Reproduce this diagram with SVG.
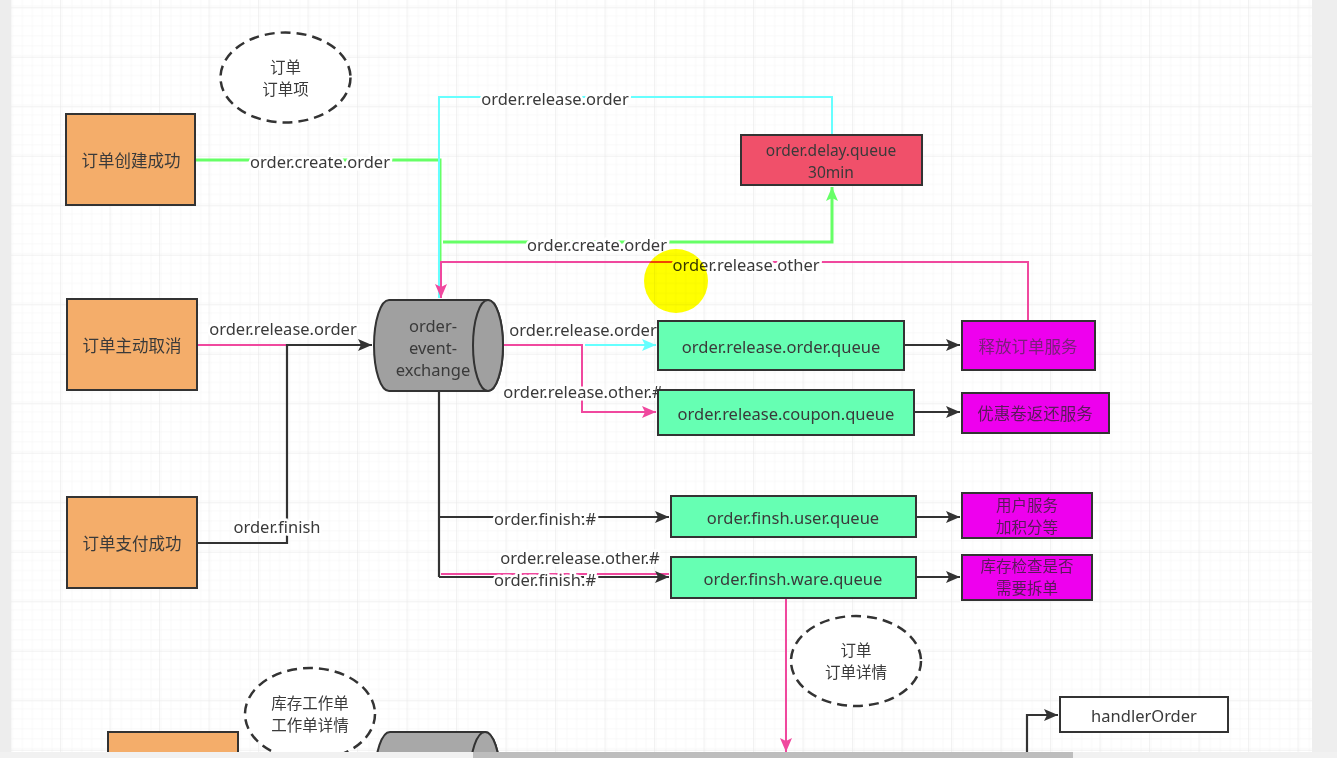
<svg xmlns="http://www.w3.org/2000/svg" width="1337" height="758" viewBox="0 0 1337 758">
  <defs>
    <pattern id="minor" width="9.9" height="9.9" patternUnits="userSpaceOnUse" x="1.5" y="8.3">
      <path d="M9.9 0V9.9H0" fill="none" stroke="#f3f3f3" stroke-width="1"/>
    </pattern>
    <pattern id="major" width="49.5" height="49.5" patternUnits="userSpaceOnUse" x="11.5" y="8.3">
      <rect width="49.5" height="49.5" fill="url(#minor)"/>
      <path d="M49.5 0V49.5H0" fill="none" stroke="#e6e6e6" stroke-width="1"/>
    </pattern>
    <marker id="ahBlack" viewBox="0 0 14 12" refX="14" refY="6" markerWidth="14" markerHeight="12" markerUnits="userSpaceOnUse" orient="auto">
      <path d="M0 0L14 6L0 12L3 6Z" fill="#333"/>
    </marker>
    <marker id="ahPink" viewBox="0 0 14 12" refX="14" refY="6" markerWidth="14" markerHeight="12" markerUnits="userSpaceOnUse" orient="auto">
      <path d="M0 0L14 6L0 12L3 6Z" fill="#f0489e"/>
    </marker>
    <marker id="ahCyan" viewBox="0 0 14 12" refX="14" refY="6" markerWidth="14" markerHeight="12" markerUnits="userSpaceOnUse" orient="auto">
      <path d="M0 0L14 6L0 12L3 6Z" fill="#66ffff"/>
    </marker>
    <marker id="ahGreen" viewBox="0 0 14 12" refX="14" refY="6" markerWidth="14" markerHeight="12" markerUnits="userSpaceOnUse" orient="auto">
      <path d="M0 0L14 6L0 12L3 6Z" fill="#66ff66"/>
    </marker>
    <style>
      text { font-family: "Noto Sans", "Noto Sans CJK SC", sans-serif; font-size: 16.5px; fill: #3a3a3a; text-anchor: middle; dominant-baseline: central; }
      .two { font-size: 15.5px; }
      .lbl { paint-order: stroke; stroke: #fff; stroke-width: 5px; }
      .box { stroke: #333; stroke-width: 2; }
      .event { fill: #f4ad6a; }
      .queue { fill: #66ffb3; }
      .svc { fill: #ee00ee; }
      .note { fill: #fff; stroke: #333; stroke-width: 2.5; stroke-dasharray: 10 6; }
      .black { fill: none; stroke: #333; stroke-width: 2.2; }
      .pink { fill: none; stroke: #f0489e; stroke-width: 2; }
      .cyan { fill: none; stroke: #66ffff; stroke-width: 2; }
      .green { fill: none; stroke: #66ff66; stroke-width: 3; }
    </style>
  </defs>

  <!-- canvas -->
  <rect width="1337" height="758" fill="#fff"/>
  <rect x="11" y="0" width="1301" height="752" fill="url(#major)"/>
  <rect x="0" y="0" width="11" height="758" fill="#ededed"/>
  <rect x="1312" y="0" width="25" height="758" fill="#eeeeee"/>

  <!-- connectors -->
  <g id="connectors">
    <!-- order created -> exchange -->
    <path class="green" d="M195 160H440V296"/>
    <!-- exchange -> delay queue -->
    <path class="green" d="M443 242H832V187" marker-end="url(#ahGreen)"/>
    <!-- delay queue dead-letter -> exchange -->
    <path class="cyan" d="M832 135V97H439V298"/>
    <!-- release other from order service -> exchange -->
    <path class="pink" d="M1028 321V262H441V298" marker-end="url(#ahPink)"/>
    <!-- cancel / paid -> exchange -->
    <path class="pink" d="M197 345H288"/>
    <path class="black" d="M197 543H287V345H372" marker-end="url(#ahBlack)"/>
    <!-- exchange -> release queues -->
    <path class="pink" d="M503 345H582V412H656" marker-end="url(#ahPink)"/>
    <path class="cyan" d="M585 345H656" marker-end="url(#ahCyan)"/>
    <!-- exchange -> finish queues -->
    <path class="black" d="M439 391V577"/>
    <path class="black" d="M439 517H669" marker-end="url(#ahBlack)"/>
    <path class="pink" d="M441 574H669"/>
    <path class="black" d="M439 577H669" marker-end="url(#ahBlack)"/>
    <!-- queues -> services -->
    <path class="black" d="M904 345H960" marker-end="url(#ahBlack)"/>
    <path class="black" d="M914 412H960" marker-end="url(#ahBlack)"/>
    <path class="black" d="M916 517H960" marker-end="url(#ahBlack)"/>
    <path class="black" d="M916 577H960" marker-end="url(#ahBlack)"/>
    <!-- ware queue -> downstream -->
    <path class="pink" d="M786 598V752" marker-end="url(#ahPink)"/>
    <path class="black" d="M1027 758V715H1058" marker-end="url(#ahBlack)"/>

    <!-- labels -->
    <text class="lbl" x="320" y="161">order.create.order</text>
    <text class="lbl" x="555" y="98">order.release.order</text>
    <text class="lbl" x="597" y="244">order.create.order</text>
    <text class="lbl" x="746" y="264">order.release.other</text>
    <text class="lbl" x="283" y="328">order.release.order</text>
    <text class="lbl" x="277" y="526">order.finish</text>
    <text class="lbl" x="583" y="329">order.release.order</text>
    <text class="lbl" x="583" y="391">order.release.other.#</text>
    <text class="lbl" x="545" y="518">order.finish.#</text>
    <text class="lbl" x="580" y="557">order.release.other.#</text>
    <text class="lbl" x="545" y="579">order.finish.#</text>
  </g>

  <!-- event sources -->
  <g id="orderCreated">
    <rect class="box event" x="66" y="114" width="129" height="91"/>
    <text x="131" y="160">订单创建成功</text>
  </g>
  <g id="orderCancelled">
    <rect class="box event" x="67" y="299" width="130" height="91"/>
    <text x="132" y="345">订单主动取消</text>
  </g>
  <g id="orderPaid">
    <rect class="box event" x="67" y="497" width="130" height="91"/>
    <text x="132" y="543">订单支付成功</text>
  </g>

  <!-- notes -->
  <g id="noteOrder">
    <ellipse class="note" cx="285.5" cy="77.5" rx="65" ry="45"/>
    <text class="two" x="285.5" y="67">订单</text>
    <text class="two" x="285.5" y="89">订单项</text>
  </g>
  <g id="noteOrderDetail">
    <ellipse class="note" cx="856" cy="661" rx="65" ry="45"/>
    <text class="two" x="856" y="650">订单</text>
    <text class="two" x="856" y="672">订单详情</text>
  </g>
  <g id="noteWareTask">
    <ellipse class="note" cx="310" cy="714" rx="65" ry="46"/>
    <text class="two" x="310" y="703">库存工作单</text>
    <text class="two" x="310" y="725">工作单详情</text>
  </g>

  <!-- exchange -->
  <g id="exchange">
    <path d="M389 300H488A15 45.5 0 0 1 488 391H389A15 45.5 0 0 1 389 300Z" fill="#a0a0a0" stroke="#333" stroke-width="2"/>
    <ellipse cx="488" cy="345.5" rx="15" ry="45.5" fill="#a0a0a0" stroke="#333" stroke-width="2"/>
    <text x="433" y="325">order-</text>
    <text x="433" y="347">event-</text>
    <text x="433" y="369">exchange</text>
  </g>

  <!-- queues -->
  <g id="delayQueue">
    <rect class="box" x="741" y="135" width="181" height="50" fill="#f0506a"/>
    <text class="two" x="831" y="150">order.delay.queue</text>
    <text class="two" x="831" y="172">30min</text>
  </g>
  <g id="releaseOrderQueue">
    <rect class="box queue" x="658" y="321" width="246" height="49"/>
    <text x="781" y="346">order.release.order.queue</text>
  </g>
  <g id="releaseCouponQueue">
    <rect class="box queue" x="658" y="390" width="256" height="45"/>
    <text x="786" y="413">order.release.coupon.queue</text>
  </g>
  <g id="finishUserQueue">
    <rect class="box queue" x="671" y="496" width="245" height="41"/>
    <text x="793" y="517">order.finsh.user.queue</text>
  </g>
  <g id="finishWareQueue">
    <rect class="box queue" x="671" y="557" width="245" height="41"/>
    <text x="793" y="578">order.finsh.ware.queue</text>
  </g>

  <!-- services -->
  <g id="releaseOrderService">
    <rect class="box svc" x="962" y="321" width="133" height="49"/>
    <text x="1028" y="346" style="fill:#7a1f7a">释放订单服务</text>
  </g>
  <g id="couponService">
    <rect class="box svc" x="962" y="393" width="147" height="40"/>
    <text x="1035" y="413" style="fill:#5a1a5a">优惠卷返还服务</text>
  </g>
  <g id="userService">
    <rect class="box svc" x="962" y="493" width="130" height="45"/>
    <text class="two" x="1027" y="505" style="fill:#5a1a5a">用户服务</text>
    <text class="two" x="1027" y="527" style="fill:#5a1a5a">加积分等</text>
  </g>
  <g id="wareService">
    <rect class="box svc" x="962" y="555" width="130" height="45"/>
    <text class="two" x="1027" y="566" style="fill:#5a1a5a">库存检查是否</text>
    <text class="two" x="1027" y="588" style="fill:#5a1a5a">需要拆单</text>
  </g>

  <!-- lower area -->
  <g id="handlerOrder">
    <rect x="1060" y="697" width="168" height="35" fill="#fff" stroke="#333" stroke-width="2"/>
    <text x="1144" y="715">handlerOrder</text>
  </g>
  <g id="wareEvent">
    <rect class="box event" x="108" y="732" width="130" height="40"/>
  </g>
  <g id="wareExchange">
    <path d="M390 732H485A15 45 0 0 1 485 822H390A15 45 0 0 1 390 732Z" fill="#a8a8a8" stroke="#333" stroke-width="2"/>
    <ellipse cx="485" cy="777" rx="15" ry="45" fill="#a8a8a8" stroke="#333" stroke-width="2"/>
  </g>

  <!-- window scrollbar -->
  <rect x="0" y="752" width="1337" height="6" fill="#f1f1f1"/>
  <rect x="473" y="752" width="600" height="6" fill="#bdbdbd"/>

  <!-- pointer highlight, multiplied over the drawing -->
  <circle cx="676" cy="281" r="32" fill="#ffff00" style="mix-blend-mode: multiply"/>
</svg>
